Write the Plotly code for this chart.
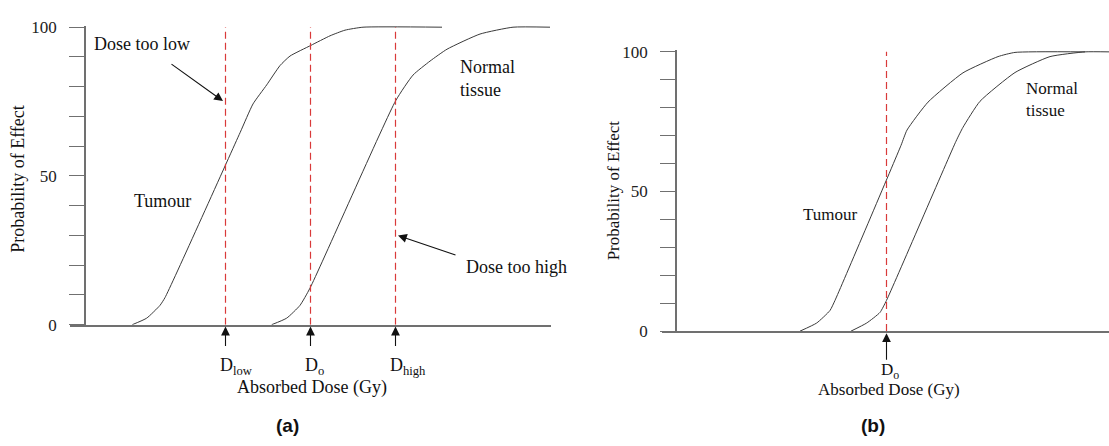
import plotly.graph_objects as go

W, H = 1109, 446

# ---------------- data ----------------
# Panel (a): dose in arbitrary units, probability of effect in %
a_tumour_dose = [9.46, 12.34, 15.0, 16.0, 31.0, 33.6, 36.34, 39.0, 41.0, 45.2, 49.0, 52.0, 55.6, 71.4]
a_tumour_prob = [0, 2.2, 6.5, 9.1, 64.5, 74.2, 80.6, 87.1, 90.3, 93.9, 97.1, 99.0, 100, 100]
a_normal_dose = [37.34, 40.34, 43.0, 45.0, 62.14, 65.6, 69.0, 72.4, 79.0, 85.6, 93.0]
a_normal_prob = [0, 2.2, 6.5, 12.3, 75.3, 83.9, 88.6, 92.6, 97.7, 100, 100]
a_markers = [28.1, 45.1, 62.1]          # D_low, D_o, D_high
a_marker_labels = ["D<sub>low</sub>", "D<sub>o</sub>", "D<sub>high</sub>"]

# Panel (b)
b_tumour_dose = [24.8, 28.14, 30.8, 31.8, 45.0, 46.2, 50.4, 57.4, 64.4, 67.8, 81.8]
b_tumour_prob = [0, 2.9, 7.4, 11.0, 66.5, 72.0, 82.0, 92.5, 98.3, 99.8, 100]
b_normal_dose = [35.0, 38.14, 40.8, 42.1, 56.0, 57.4, 60.8, 67.8, 74.8, 81.8, 86.6]
b_normal_prob = [0, 2.9, 6.7, 11.0, 68.0, 73.0, 82.3, 92.6, 98.3, 100, 100]
b_markers = [42.1]
b_marker_labels = ["D<sub>o</sub>"]

y_tickvals = [0, 50, 100]
y_ticktext = ["0", "50", "100"]

# ---------------- styles ----------------
SERIF = "Liberation Serif, Times New Roman, serif"
SANS = "Liberation Sans, Arial, sans-serif"
CURVE = dict(color="#3a3a3a", width=1)
DASH = dict(color="#d93a3a", width=1.2, dash="7px,4px")
AXC = "#707070"

def px(x):
    return x / W

def py(y):
    return 1 - y / H

fig = go.Figure()

# panel (a)
fig.add_trace(go.Scatter(x=a_tumour_dose, y=a_tumour_prob, mode="lines", line=dict(shape="spline", smoothing=0.5, **CURVE),
                         xaxis="x", yaxis="y", hoverinfo="skip", cliponaxis=False))
fig.add_trace(go.Scatter(x=a_normal_dose, y=a_normal_prob, mode="lines", line=dict(shape="spline", smoothing=0.5, **CURVE),
                         xaxis="x", yaxis="y", hoverinfo="skip", cliponaxis=False))
for d in a_markers:
    fig.add_trace(go.Scatter(x=[d, d], y=[0, 100], mode="lines", line=DASH, xaxis="x", yaxis="y", hoverinfo="skip"))

# panel (b)
fig.add_trace(go.Scatter(x=b_tumour_dose, y=b_tumour_prob, mode="lines", line=dict(shape="spline", smoothing=0.5, **CURVE),
                         xaxis="x2", yaxis="y2", hoverinfo="skip", cliponaxis=False))
fig.add_trace(go.Scatter(x=b_normal_dose, y=b_normal_prob, mode="lines", line=dict(shape="spline", smoothing=0.5, **CURVE),
                         xaxis="x2", yaxis="y2", hoverinfo="skip", cliponaxis=False))
for d in b_markers:
    fig.add_trace(go.Scatter(x=[d, d], y=[0, 100], mode="lines", line=DASH, xaxis="x2", yaxis="y2", hoverinfo="skip"))

def yaxis_cfg(domain, pos, fsize):
    return dict(domain=domain, range=[0, 100.5], anchor="free", position=pos,
                showline=True, linecolor=AXC, linewidth=1.5, showgrid=False, zeroline=False,
                ticks="outside", ticklen=15, tickwidth=1.3, tickcolor=AXC,
                tickvals=y_tickvals, ticktext=y_ticktext, ticklabelstandoff=9,
                tickfont=dict(family=SERIF, size=fsize, color="#222"),
                minor=dict(dtick=10, tick0=0, ticks="outside", ticklen=15, tickwidth=1.3, tickcolor=AXC),
                fixedrange=True)

def xaxis_cfg(domain, rng, anchor):
    return dict(domain=domain, range=rng, anchor=anchor, showline=True, linecolor=AXC, linewidth=1.5,
                showgrid=False, zeroline=False, showticklabels=False, ticks="", fixedrange=True)

fig.update_layout(
    width=W, height=H, margin=dict(l=0, r=0, t=0, b=0),
    paper_bgcolor="white", plot_bgcolor="white", showlegend=False,
    xaxis=xaxis_cfg([px(70), px(551)], [-3, 93.2], "y"),
    yaxis=yaxis_cfg([py(330), py(18.45)], px(85), 17),
    xaxis2=xaxis_cfg([px(662), 1.0], [-2.8, 86.6], "y2"),
    yaxis2=yaxis_cfg([py(336.7), py(44.25)], px(676), 17),
)

ann = []

def text(x, y, s, size, xanchor="left", family=SERIF, bold=False, angle=0):
    t = f"<b>{s}</b>" if bold else s
    ann.append(dict(xref="paper", yref="paper", x=px(x), y=py(y), text=t, showarrow=False,
                    xanchor=xanchor, yanchor="middle", textangle=angle, align="left",
                    font=dict(family=family, size=size, color="#111")))

# panel (a) texts
text(18, 178, "Probability of Effect", 18, xanchor="center", angle=-90)
text(92, 37, "Dose too low", 18)
text(132, 201, "Tumour", 18)
text(458, 73, "Normal<br>tissue", 18)
text(464, 270, "Dose too high", 18)
text(312, 395, "Absorbed Dose (Gy)", 18, xanchor="center")
text(287, 435, "(a)", 19, xanchor="center", family=SANS, bold=True)

# panel (b) texts
text(613, 190, "Probability of Effect", 17, xanchor="center", angle=-90)
text(801, 215, "Tumour", 17)
text(1024, 95, "Normal<br>tissue", 17)
text(889, 398, "Absorbed Dose (Gy)", 17, xanchor="center")
text(873, 435, "(b)", 19, xanchor="center", family=SANS, bold=True)

# pointer arrows (a)
arrow_common = dict(showarrow=True, arrowhead=2, arrowsize=1.6, arrowwidth=1.1, arrowcolor="#111",
                    text="", standoff=0)
ann.append(dict(xref="x", yref="y", x=(223 - 85) / 5, y=(330 - 97) / 3.1, ax=-53, ay=-38, **arrow_common))
ann.append(dict(xref="x", yref="y", x=(398 - 85) / 5, y=(330 - 237) / 3.1, ax=59, ay=20, **arrow_common))

# dose marker arrows + labels
for d, lab in zip(a_markers, a_marker_labels):
    ann.append(dict(xref="x", yref="paper", x=d, y=py(332), ax=0, ay=21, **arrow_common))
    ann.append(dict(xref="x", yref="paper", x=d, y=py(360), text=lab, showarrow=False, xanchor="left",
                    yanchor="top", xshift=-8, font=dict(family=SERIF, size=18, color="#111")))
for d, lab in zip(b_markers, b_marker_labels):
    ann.append(dict(xref="x2", yref="paper", x=d, y=py(339), ax=0, ay=28, **arrow_common))
    ann.append(dict(xref="x2", yref="paper", x=d, y=py(365), text=lab, showarrow=False, xanchor="left",
                    yanchor="top", xshift=-8, font=dict(family=SERIF, size=17, color="#111")))

fig.update_layout(annotations=ann)
fig.write_html("out.html")
